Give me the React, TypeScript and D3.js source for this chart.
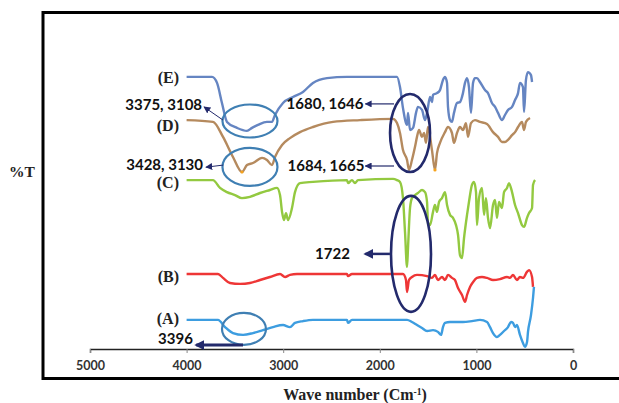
import React from "react";
import * as d3 from "d3";

// ---------- data (wavenumber cm-1, offset %T) ----------
const xTicks = [5000, 4000, 3000, 2000, 1000, 0];

const seriesE: [number, number][] = [
  [4000, 90.7], [3737, 90.7], [3685, 88.7], [3634, 82], [3582, 75.7], [3478, 73.7], [3375, 72.7],
  [3323, 73.7], [3261, 74.7], [3168, 75.7], [3116, 75.7], [3085, 78], [3002, 82], [2899, 84],
  [2795, 85.7], [2692, 88.7], [2547, 90.3], [2340, 90.7], [1863, 90.7], [1822, 90.7], [1791, 87.3],
  [1760, 80.3], [1718, 74.7], [1708, 78.7], [1687, 73], [1656, 73.7], [1625, 78.7], [1605, 80.7],
  [1563, 79.7], [1532, 76.3], [1511, 78.7], [1480, 84], [1460, 82.3], [1449, 84.7], [1408, 85.3],
  [1377, 86.3], [1346, 89.7], [1325, 90.7], [1304, 88.7], [1294, 80.7], [1273, 76.3], [1253, 75.7],
  [1232, 78.7], [1201, 82], [1170, 82.3], [1139, 85.3], [1118, 88.7], [1097, 90.3], [1077, 87.3],
  [1056, 78.7], [1035, 88.7], [1015, 90.3], [994, 90.3], [963, 89], [911, 86.3], [880, 85.3],
  [839, 82], [807, 80.7], [776, 78.7], [735, 76.3], [704, 78], [673, 79.7], [631, 80.7], [600, 83],
  [569, 85.3], [549, 88.7], [518, 87.3], [507, 79], [487, 89.7], [466, 92.3], [435, 91.3], [424, 89],
];

const seriesD: [number, number][] = [
  [4000, 76.3], [3727, 75.7], [3623, 70.7], [3520, 64], [3427, 59], [3375, 61.3], [3313, 62],
  [3219, 63.7], [3168, 63], [3116, 61.3], [3085, 64], [3012, 68], [2930, 70.3], [2826, 72.3],
  [2692, 74], [2484, 75.7], [2205, 76.3], [1863, 76.7], [1822, 75.3], [1791, 72], [1760, 66.3],
  [1718, 63], [1698, 59.7], [1667, 63], [1636, 67.3], [1615, 70.7], [1594, 73], [1563, 70.7],
  [1542, 72], [1522, 68.7], [1501, 74], [1460, 66.3], [1429, 59.7], [1408, 65.3], [1377, 68.7],
  [1325, 72.3], [1294, 74], [1253, 72], [1232, 68.7], [1201, 72], [1170, 74], [1139, 73],
  [1108, 75.3], [1087, 70.7], [1056, 75.3], [1015, 76.3], [963, 75.7], [890, 75], [828, 72.3],
  [776, 70.7], [735, 69], [704, 69], [673, 69.7], [631, 71.3], [600, 72.3], [569, 74], [528, 75.7],
  [507, 73], [487, 75.7], [445, 77],
];
const markersD = [3427, 1429];

const seriesC: [number, number][] = [
  [4000, 56.3], [3727, 56.3], [3654, 53.7], [3582, 52.3], [3499, 51.3], [3427, 50.3], [3344, 50.7],
  [3240, 52], [3137, 53], [3064, 53.7], [3033, 51.3], [3012, 45.7], [2992, 43], [2971, 45.3],
  [2950, 43], [2909, 47], [2878, 52.3], [2826, 55.3], [2692, 55.7], [2340, 56.3], [2329, 55.3],
  [2288, 56.3], [2257, 55.3], [2226, 56.3], [1863, 56.7], [1822, 56.3], [1791, 55.7], [1760, 50.3],
  [1739, 39], [1718, 27.3], [1708, 33.7], [1687, 47], [1667, 50.3], [1636, 51.3], [1605, 52],
  [1563, 53], [1532, 52.3], [1511, 49], [1501, 42], [1480, 41.3], [1449, 45.7], [1429, 48],
  [1408, 45.7], [1387, 49], [1356, 50.3], [1325, 52.3], [1304, 48], [1273, 44.7], [1242, 43.7],
  [1211, 41.3], [1190, 38], [1170, 31.3], [1149, 30.3], [1128, 37], [1097, 44.7], [1077, 49],
  [1046, 54.7], [1025, 55.7], [1004, 52.3], [994, 41.3], [973, 50.3], [942, 53.7], [921, 44.7],
  [901, 50.3], [880, 43.7], [859, 40.3], [828, 48], [807, 49.7], [787, 43.7], [766, 49], [735, 47],
  [714, 52.3], [683, 53.7], [663, 55.3], [631, 52.3], [600, 48], [569, 45.3], [528, 41.3],
  [507, 40.7], [476, 43.7], [455, 45.3], [424, 47], [414, 54.7], [393, 56.3],
];

const seriesB: [number, number][] = [
  [4000, 25], [3675, 25], [3623, 23.7], [3551, 22], [3447, 21.7], [3344, 22], [3240, 23],
  [3137, 24], [3033, 25], [2981, 24], [2930, 24.7], [2857, 25], [2340, 25], [2329, 24.3],
  [2288, 25], [1760, 25], [1729, 23], [1718, 19], [1698, 23], [1667, 24], [1615, 24.7],
  [1511, 24.3], [1460, 23.7], [1429, 24.7], [1398, 23], [1356, 24], [1325, 23], [1294, 24.7],
  [1253, 23.7], [1222, 23], [1190, 20.3], [1149, 18], [1118, 15.7], [1097, 18], [1066, 20.7],
  [1035, 22.3], [994, 23.7], [942, 24], [890, 23.7], [828, 23], [756, 23.3], [683, 24],
  [652, 23.7], [621, 24.7], [580, 23], [549, 24], [518, 23.7], [476, 25.7], [455, 26.3],
  [424, 24], [414, 20.7],
];

const seriesA: [number, number][] = [
  [4000, 9.7], [3675, 9.7], [3602, 7.3], [3520, 5.3], [3416, 4.7], [3313, 5.3], [3209, 6.3],
  [3106, 7.3], [3002, 8], [2930, 7.3], [2878, 8.7], [2795, 9.3], [2692, 9.7], [2340, 9.7],
  [2329, 8.7], [2288, 9.7], [1718, 9.7], [1667, 9], [1615, 8], [1563, 7], [1511, 6], [1449, 6.3],
  [1398, 5.7], [1366, 4.7], [1346, 7.3], [1325, 8.7], [1273, 9], [1201, 9], [1139, 9], [1046, 9.3],
  [963, 9.7], [890, 9], [859, 7.3], [828, 5.3], [787, 4], [756, 4.7], [714, 6], [673, 7.3],
  [642, 9], [621, 8.7], [600, 7.3], [580, 8], [549, 4.7], [518, 2], [497, 0.7], [476, 2.3],
  [466, 5.7], [435, 11.3], [414, 17], [404, 20.7],
];

const seriesNames = ["(E)", "(D)", "(C)", "(B)", "(A)"];
const seriesLabelY = [90.7, 74.7, 55.4, 24.3, 10.3];

// annotations: [wavenumber, value]
const ellipsesLight: { wn: number; v: number; rx: number; ry: number }[] = [
  { wn: 3344, v: 76, rx: 27.5, ry: 16.5 },
  { wn: 3344, v: 60.7, rx: 27.5, ry: 19 },
  { wn: 3406, v: 6.7, rx: 22, ry: 16 },
];
const ellipsesDark = [
  { wn: 1687, v: 72, rx: 20, ry: 39 },
  { wn: 1677, v: 31.7, rx: 20, ry: 58 },
];
const arrowLabels = [
  { text: "3375, 3108", from: [3623, 76.3], to: [3820, 80.7], lx: 3840, ly: 81.3, w: 1 },
  { text: "3428, 3130", from: [3623, 61.3], to: [3800, 60.6], lx: 3830, ly: 61.4, w: 1 },
  { text: "1680, 1646", from: [1853, 81.7], to: [2150, 81.7], lx: 2170, ly: 81.7, w: 1.2 },
  { text: "1684, 1665", from: [1853, 61], to: [2150, 61], lx: 2160, ly: 61, w: 1.2 },
  { text: "1722", from: [1895, 31.7], to: [2150, 31.7], lx: 2310, ly: 31.7, w: 2.5 },
  { text: "3396", from: [3416, 1.3], to: [3900, 1.3], lx: 3935, ly: 3.3, w: 3 },
];

const W = 619;
const H = 403;

const x = d3.scaleLinear().domain([5000, 0]).range([90, 573]);
const y = d3.scaleLinear().domain([0, 100]).range([349, 49]);

const line = d3
  .line<[number, number]>()
  .x((d) => x(d[0]))
  .y((d) => y(d[1]))
  .curve(d3.curveMonotoneX);

const series = [
  { data: seriesE, color: "#6585c2" },
  { data: seriesD, color: "#b58a5e" },
  { data: seriesC, color: "#93c940" },
  { data: seriesB, color: "#ee3636" },
  { data: seriesA, color: "#3d9de0" },
];

const NAVY = "#232a6c";
const LIGHT = "#3f7fb3";
const numFont = "Lato, 'Liberation Sans', sans-serif";
const serif = "'Liberation Serif', 'DejaVu Serif', serif";

function XAxis() {
  const ref = React.useRef<SVGGElement>(null);
  React.useEffect(() => {
    if (!ref.current) return;
    const g = d3.select(ref.current);
    g.call(
      d3.axisBottom(x).tickValues(xTicks).tickSize(4).tickPadding(8).tickFormat(d3.format("d")) as any
    );
    g.select(".domain").attr("stroke", "#222").attr("stroke-width", 1.4);
    g.selectAll(".tick line").attr("stroke", "#888").attr("stroke-width", 1);
    g.selectAll(".tick text")
      .attr("font-family", numFont)
      .attr("font-weight", 700)
      .attr("font-size", 12.5)
      .attr("fill", "#333");
  }, []);
  return <g ref={ref} transform={`translate(0,${y(0)})`} />;
}

export default function App() {
  return (
    <svg
      width={W}
      height={H}
      viewBox={`0 0 ${W} ${H}`}
      style={{ position: "absolute", left: 0, top: 0, background: "#fff" }}
    >
      <defs>
        <marker id="ah" viewBox="0 0 10 10" refX="9" refY="5" markerWidth="7" markerHeight="7" orient="auto-start-reverse" markerUnits="userSpaceOnUse">
          <path d="M0,0 L10,5 L0,10 z" fill={NAVY} />
        </marker>
        <marker id="ahb" viewBox="0 0 10 10" refX="8" refY="5" markerWidth="10" markerHeight="10" orient="auto-start-reverse" markerUnits="userSpaceOnUse">
          <path d="M0,0 L10,5 L0,10 z" fill={NAVY} />
        </marker>
      </defs>
      <rect x={0} y={0} width={W} height={H} fill="#fff" />
      {/* frame */}
      <rect x={43} y={12.5} width={600} height={366} fill="none" stroke="#000" strokeWidth={3} />

      <XAxis />

      {/* spectra */}
      {series.map((s, i) => (
        <path key={i} d={line(s.data) || ""} fill="none" stroke={s.color} strokeWidth={2.4} strokeLinejoin="round" />
      ))}
      {markersD.map((wn, i) => {
        const pt = seriesD.find((d) => d[0] === wn)!;
        return <circle key={i} cx={x(pt[0])} cy={y(pt[1])} r={1.6} fill="#f5a21c" />;
      })}

      {/* series labels */}
      {seriesNames.map((n, i) => (
        <text
          key={n}
          x={179}
          y={y(seriesLabelY[i])}
          dy="0.35em"
          textAnchor="end"
          fontFamily={serif}
          fontWeight={700}
          fontSize={16}
          fill="#222"
        >
          {n}
        </text>
      ))}

      {/* light ellipses */}
      {ellipsesLight.map((e, i) => (
        <ellipse key={i} cx={x(e.wn)} cy={y(e.v)} rx={e.rx} ry={e.ry} fill="none" stroke={LIGHT} strokeWidth={2.2} />
      ))}
      {/* dark ellipses */}
      {ellipsesDark.map((e, i) => (
        <ellipse key={i} cx={x(e.wn)} cy={y(e.v)} rx={e.rx} ry={e.ry} fill="none" stroke={NAVY} strokeWidth={2.6} />
      ))}

      {/* arrows + labels */}
      {arrowLabels.map((a, i) => (
        <g key={i}>
          <line
            x1={x(a.from[0])}
            y1={y(a.from[1])}
            x2={x(a.to[0])}
            y2={y(a.to[1])}
            stroke={NAVY}
            strokeWidth={a.w}
            markerEnd={a.w > 2 ? "url(#ahb)" : "url(#ah)"}
          />
          <text
            x={x(a.lx)}
            y={y(a.ly)}
            dy="0.35em"
            textAnchor="end"
            fontFamily={numFont}
            fontWeight={700}
            fontSize={15}
            fill="#111"
          >
            {a.text}
          </text>
        </g>
      ))}

      {/* axis titles */}
      <text x={22} y={172} dy="0.35em" textAnchor="middle" fontFamily={serif} fontWeight={700} fontSize={15.5} fill="#222">
        %T
      </text>
      <text x={355} y={400} textAnchor="middle" fontFamily={serif} fontWeight={700} fontSize={16} fill="#222">
        Wave number (Cm<tspan dy="-5" fontSize={9.5}>-1</tspan>
        <tspan dy="5">)</tspan>
      </text>
    </svg>
  );
}
